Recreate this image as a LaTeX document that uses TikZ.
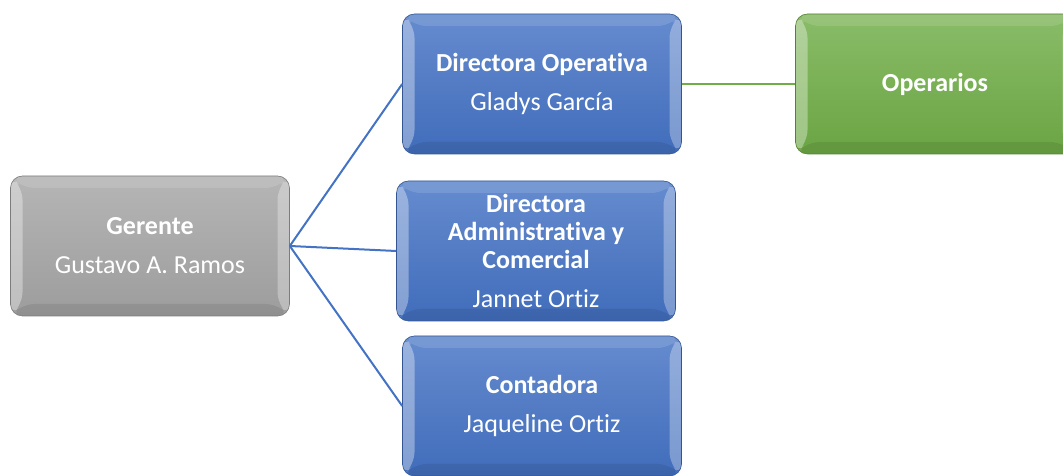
\documentclass[tikz,border=0pt]{standalone}
\usepackage{fontspec}
\setmainfont{Carlito}[Ligatures=NoCommon]
\usetikzlibrary{positioning}

\definecolor{boxblue}{HTML}{4472C4}
\definecolor{boxgray}{HTML}{A5A5A5}
\definecolor{boxgreen}{HTML}{70AD47}

\tikzset{
  bevel/.style={path picture={
    \fill[white,opacity=0.12] (path picture bounding box.north west) -- (path picture bounding box.north east)
      -- ([shift={(-12,-12)}]path picture bounding box.north east) -- ([shift={(12,-12)}]path picture bounding box.north west) -- cycle;
    \fill[black,opacity=0.08] (path picture bounding box.south west) -- (path picture bounding box.south east)
      -- ([shift={(-12,12)}]path picture bounding box.south east) -- ([shift={(12,12)}]path picture bounding box.south west) -- cycle;
    \fill[white,opacity=0.35] (path picture bounding box.north west) -- ([shift={(12,-12)}]path picture bounding box.north west)
      -- ([shift={(12,12)}]path picture bounding box.south west) -- (path picture bounding box.south west) -- cycle;
    \fill[white,opacity=0.3] (path picture bounding box.north east) -- ([shift={(-12,-12)}]path picture bounding box.north east)
      -- ([shift={(-12,12)}]path picture bounding box.south east) -- (path picture bounding box.south east) -- cycle;
  }},
  orgbox/.style={rectangle, rounded corners=12pt, minimum width=279pt, minimum height=140pt,
    align=center, text=white, font=\fontsize{26}{28}\selectfont,
    draw=#1!75!black, line width=0.6pt, top color=#1!82!white, bottom color=#1!95!black, bevel},
  link/.style={line width=2pt, #1},
}

\begin{document}
\begin{tikzpicture}[x=1pt,y=1pt]
\useasboundingbox (0,0) rectangle (1063,476);

\node[orgbox=boxgray] (gerente) at (150,230) {\textbf{Gerente}\\[11pt]Gustavo A. Ramos};
\node[orgbox=boxblue] (operativa) at (542,392) {\textbf{Directora Operativa}\\[11pt]Gladys García};
\node[orgbox=boxblue] (admin) at (536,225) {\textbf{Directora}\\\textbf{Administrativa y}\\\textbf{Comercial}\\[11pt]Jannet Ortiz};
\node[orgbox=boxblue] (contadora) at (542,70) {\textbf{Contadora}\\[11pt]Jaqueline Ortiz};
\node[orgbox=boxgreen] (operarios) at (935,392) {\textbf{Operarios}};

\draw[link=boxblue] (gerente.east) -- (operativa.west);
\draw[link=boxblue] (gerente.east) -- (admin.west);
\draw[link=boxblue] (gerente.east) -- (contadora.west);
\draw[link=boxgreen] (operativa.east) -- (operarios.west);

\end{tikzpicture}
\end{document}
